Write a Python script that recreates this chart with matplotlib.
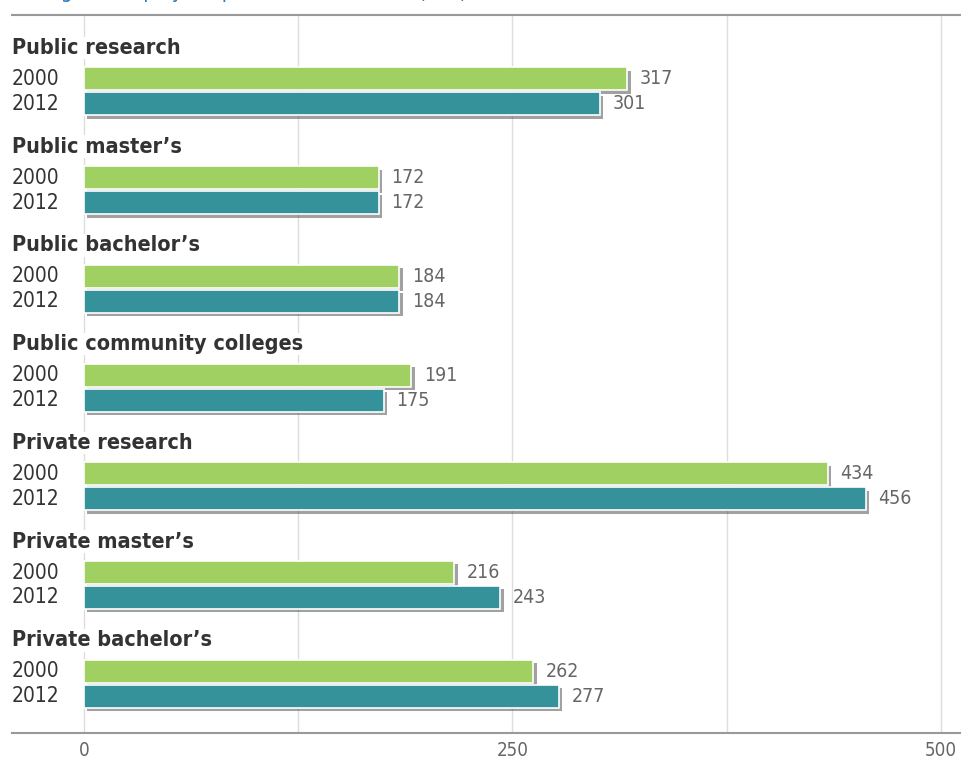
import numpy as np
import matplotlib.pyplot as plt
import matplotlib.patheffects as pe
from matplotlib.ticker import FixedLocator

categories = ["Public research", "Public master\u2019s", "Public bachelor\u2019s",
              "Public community colleges", "Private research",
              "Private master\u2019s", "Private bachelor\u2019s"]
years = ["2000", "2012"]
vals_2000 = [317, 172, 184, 191, 434, 216, 262]
vals_2012 = [301, 172, 184, 175, 456, 243, 277]
ticks = [0, 250, 500]
title = "Change in employees per 10,000 students (FTE), 2000 and 2012"

green = "#a0cf62"
teal = "#35929a"
fnt = dict(family="DejaVu Sans", stretch="condensed")

fig = plt.figure(figsize=(9.61, 7.62), dpi=100)
ax = fig.add_axes([12/961, 1 - 733/762, 949/961, 718/762])

y = np.arange(len(categories))
off0, off1, h = 0.314, 0.567, 0.233
shadow = [pe.SimplePatchShadow(offset=(2.5, -2.5), shadow_rgbFace="#555555", alpha=0.55), pe.Normal()]

for vals, off, col in [(vals_2000, off0, green), (vals_2012, off1, teal)]:
    bars = ax.barh(y + off, vals, height=h, color=col, edgecolor="white", linewidth=1.2, zorder=3)
    for b in bars:
        b.set_path_effects(shadow)
    for yi, v in zip(y + off, vals):
        ax.annotate(str(v), (v, yi), xytext=(9, 0), textcoords="offset points",
                    va="center", ha="left", fontsize=14, color="#666666", zorder=4, **fnt)

xl = -42
for i, c in enumerate(categories):
    ax.text(xl, i, c, ha="left", va="center", fontsize=15.5, fontweight="bold", color="#333333",
            zorder=4, bbox=dict(facecolor="white", edgecolor="none", pad=1), **fnt)
    ax.text(xl, i + off0, years[0], ha="left", va="center", fontsize=15, color="#333333", zorder=4, **fnt)
    ax.text(xl, i + off1, years[1], ha="left", va="center", fontsize=15, color="#333333", zorder=4, **fnt)

ax.set_xlim(xl, xl + 949/1.714)
ax.set_ylim(6.94, -0.334)
ax.xaxis.set_major_locator(FixedLocator(ticks))
ax.xaxis.set_minor_locator(FixedLocator([125, 375]))
ax.set_xticklabels([str(t) for t in ticks], fontsize=13.5, color="#666666", **fnt)
ax.tick_params(axis="x", which="both", length=0, pad=6)
ax.set_yticks([])
ax.grid(axis="x", which="both", color="#dddddd", linewidth=1, zorder=0)
ax.set_axisbelow(True)
for s in ["left", "right"]:
    ax.spines[s].set_visible(False)
for s in ["top", "bottom"]:
    ax.spines[s].set_color("#999999")
    ax.spines[s].set_linewidth(1.5)

# title sits mostly above the canvas, as in the cropped original
fig.text(12/961, 1.0 + 2/762, title, ha="left", va="baseline", fontsize=15, color="#2a7bc4", **fnt)

fig.savefig("out.png", dpi=100)
